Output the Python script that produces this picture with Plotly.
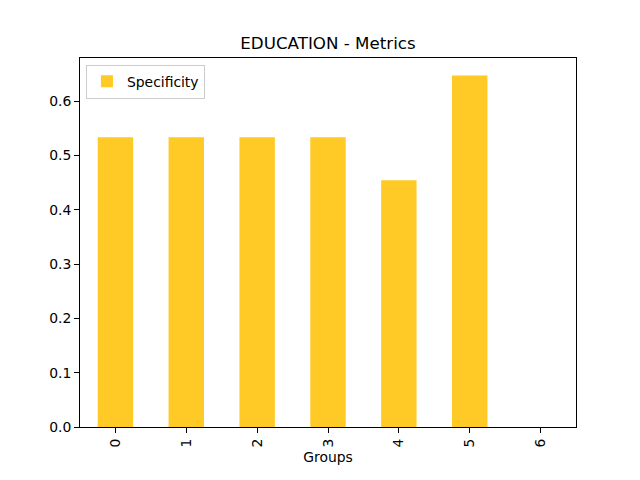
import plotly.graph_objects as go

groups = ["0", "1", "2", "3", "4", "5", "6"]
specificity = [0.5333, 0.5333, 0.5333, 0.5333, 0.4545, 0.6471, 0.0]
y_ticks = [0.0, 0.1, 0.2, 0.3, 0.4, 0.5, 0.6]

fig = go.Figure()
fig.add_trace(go.Bar(
    x=groups, y=specificity, name="Specificity",
    marker=dict(color="#FFC926", line=dict(width=0)),
    width=0.5, showlegend=True,
))

fig.update_layout(
    width=640, height=480,
    margin=dict(l=72, r=72, t=50, b=61),
    paper_bgcolor="white", plot_bgcolor="white",
    font=dict(family="DejaVu Sans", size=13.9, color="black"),
    title=dict(text="EDUCATION - Metrics", x=0.5, xanchor="center",
               y=1 - 35/480, yanchor="middle", font=dict(size=16.7)),
    legend=dict(x=0.012, y=0.982, xanchor="left", yanchor="top",
                bordercolor="#cccccc", borderwidth=1, bgcolor="white",
                font=dict(size=13.9), itemwidth=30),
    bargap=0.5,
)
fig.update_xaxes(
    type="category", range=[-0.5, 6.5], tickangle=-90,
    showline=True, mirror=True, linecolor="black", linewidth=1,
    ticks="outside", ticklen=5, tickcolor="black",
    tickfont=dict(size=13.9),
    showgrid=False, zeroline=False,
    title=dict(text="Groups", standoff=5, font=dict(size=13.9)),
)
fig.update_yaxes(
    range=[0, 0.6794], tickvals=y_ticks, tickformat=".1f",
    showline=True, mirror=True, linecolor="black", linewidth=1,
    ticks="outside", ticklen=5, tickcolor="black",
    tickfont=dict(size=13.9),
    showgrid=False, zeroline=False,
)
fig.write_html("out.html")
